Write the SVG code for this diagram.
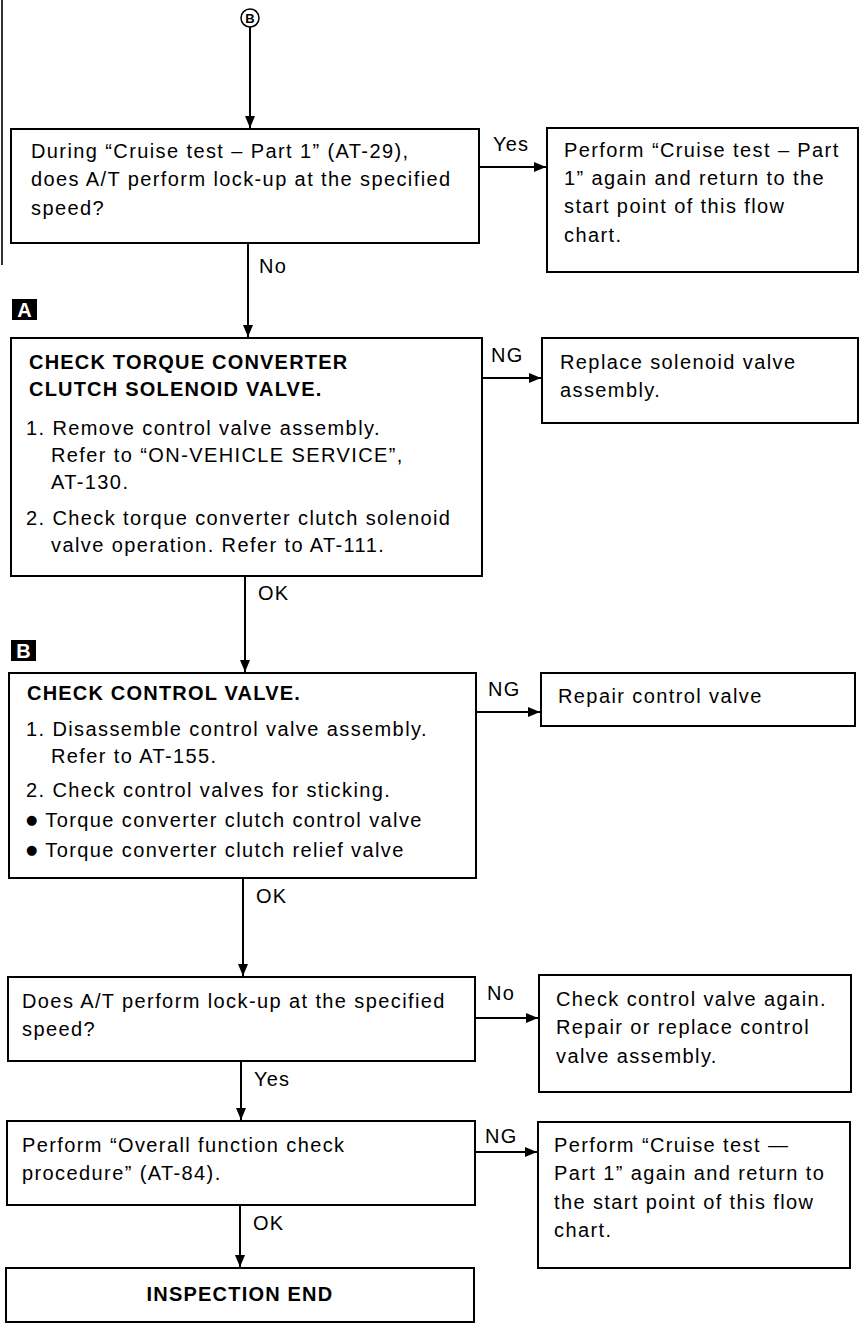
<svg xmlns="http://www.w3.org/2000/svg" width="866" height="1332" viewBox="0 0 866 1332">
<style>
.box{fill:#fff;stroke:#000;stroke-width:2}
.t{font-family:"Liberation Sans",Arial,sans-serif;font-size:20px;letter-spacing:1.4px;fill:#000}
.b{font-weight:bold;letter-spacing:1.2px}
.lbl{font-family:"Liberation Sans",Arial,sans-serif;font-size:20px;letter-spacing:1.2px;fill:#000}
.c{stroke:#000;stroke-width:2;fill:none}
.mk{fill:#000}
.mkt{font-family:"Liberation Sans",Arial,sans-serif;font-size:20px;font-weight:bold;fill:#fff}
.bul{font-family:"DejaVu Sans",sans-serif;font-size:13px}
</style>
<defs>
<marker id="ah" markerWidth="12" markerHeight="10" refX="12" refY="5" orient="auto" markerUnits="userSpaceOnUse">
<path d="M0,0 L12,5 L0,10 Z" fill="#000"/>
</marker>
</defs>
<rect width="866" height="1332" fill="#fff"/>
<line x1="2" y1="0" x2="2" y2="265" stroke="#333" stroke-width="2"/>

<g id="startB">
<circle cx="250" cy="18" r="9" fill="#fff" stroke="#000" stroke-width="1.5"/>
<text x="250" y="23" text-anchor="middle" font-family="Liberation Sans, Arial, sans-serif" font-size="13" font-weight="bold">B</text>
</g>

<g id="markA">
<rect class="mk" x="12" y="299" width="25" height="21"/>
<text class="mkt" x="24.5" y="317" text-anchor="middle">A</text>
</g>
<g id="markB">
<rect class="mk" x="11" y="640" width="25" height="21"/>
<text class="mkt" x="23.5" y="658" text-anchor="middle">B</text>
</g>

<g id="q1">
<rect class="box" x="11" y="129" width="468" height="114"/>
<text class="t" x="31" y="158">During “Cruise test – Part 1” (AT-29),</text>
<text class="t" x="31" y="186">does A/T perform lock-up at the specified</text>
<text class="t" x="31" y="215">speed?</text>
</g>
<g id="r1">
<rect class="box" x="547" y="128" width="311" height="144"/>
<text class="t" x="564" y="157">Perform “Cruise test – Part</text>
<text class="t" x="564" y="185">1” again and return to the</text>
<text class="t" x="564" y="213">start point of this flow</text>
<text class="t" x="564" y="242">chart.</text>
</g>

<g id="s1">
<rect class="box" x="11" y="338" width="471" height="238"/>
<text class="t b" x="29" y="369">CHECK TORQUE CONVERTER</text>
<text class="t b" x="29" y="396">CLUTCH SOLENOID VALVE.</text>
<text class="t" x="26" y="435">1. Remove control valve assembly.</text>
<text class="t" x="51" y="462">Refer to “ON-VEHICLE SERVICE”,</text>
<text class="t" x="51" y="489">AT-130.</text>
<text class="t" x="26" y="525">2. Check torque converter clutch solenoid</text>
<text class="t" x="51" y="552">valve operation. Refer to AT-111.</text>
</g>
<g id="r2">
<rect class="box" x="542" y="338" width="316" height="85"/>
<text class="t" x="560" y="369">Replace solenoid valve</text>
<text class="t" x="560" y="397">assembly.</text>
</g>

<g id="s2">
<rect class="box" x="9" y="673" width="467" height="205"/>
<text class="t b" x="27" y="700">CHECK CONTROL VALVE.</text>
<text class="t" x="26" y="736">1. Disassemble control valve assembly.</text>
<text class="t" x="51" y="763">Refer to AT-155.</text>
<text class="t" x="26" y="797">2. Check control valves for sticking.</text>
<text class="t" x="26" y="827"><tspan class="bul" dy="-3">●</tspan><tspan dy="3"> Torque converter clutch control valve</tspan></text>
<text class="t" x="26" y="857"><tspan class="bul" dy="-3">●</tspan><tspan dy="3"> Torque converter clutch relief valve</tspan></text>
</g>
<g id="r3">
<rect class="box" x="541" y="673" width="314" height="53"/>
<text class="t" x="558" y="703">Repair control valve</text>
</g>

<g id="q2">
<rect class="box" x="8" y="977" width="467" height="84"/>
<text class="t" x="22" y="1008">Does A/T perform lock-up at the specified</text>
<text class="t" x="22" y="1036">speed?</text>
</g>
<g id="r4">
<rect class="box" x="539" y="975" width="312" height="117"/>
<text class="t" x="556" y="1006">Check control valve again.</text>
<text class="t" x="556" y="1034">Repair or replace control</text>
<text class="t" x="556" y="1063">valve assembly.</text>
</g>

<g id="s3">
<rect class="box" x="7" y="1121" width="468" height="84"/>
<text class="t" x="22" y="1152">Perform “Overall function check</text>
<text class="t" x="22" y="1180">procedure” (AT-84).</text>
</g>
<g id="r5">
<rect class="box" x="538" y="1122" width="312" height="146"/>
<text class="t" x="554" y="1152">Perform “Cruise test —</text>
<text class="t" x="554" y="1180">Part 1” again and return to</text>
<text class="t" x="554" y="1209">the start point of this flow</text>
<text class="t" x="554" y="1237">chart.</text>
</g>

<g id="end">
<rect class="box" x="6" y="1268" width="468" height="54"/>
<text class="t b" x="240" y="1301" text-anchor="middle">INSPECTION END</text>
</g>

<g id="connectors">
<line class="c" x1="250" y1="27" x2="250" y2="128" marker-end="url(#ah)"/>
<line class="c" x1="479" y1="167" x2="546" y2="167" marker-end="url(#ah)"/>
<text class="lbl" x="493" y="151">Yes</text>
<line class="c" x1="248" y1="243" x2="248" y2="337" marker-end="url(#ah)"/>
<text class="lbl" x="259" y="273">No</text>
<line class="c" x1="482" y1="378" x2="541" y2="378" marker-end="url(#ah)"/>
<text class="lbl" x="491" y="362">NG</text>
<line class="c" x1="245" y1="576" x2="245" y2="672" marker-end="url(#ah)"/>
<text class="lbl" x="258" y="600">OK</text>
<line class="c" x1="476" y1="712" x2="540" y2="712" marker-end="url(#ah)"/>
<text class="lbl" x="488" y="696">NG</text>
<line class="c" x1="243" y1="878" x2="243" y2="976" marker-end="url(#ah)"/>
<text class="lbl" x="256" y="903">OK</text>
<line class="c" x1="475" y1="1018" x2="538" y2="1018" marker-end="url(#ah)"/>
<text class="lbl" x="487" y="1000">No</text>
<line class="c" x1="241" y1="1061" x2="241" y2="1120" marker-end="url(#ah)"/>
<text class="lbl" x="254" y="1086">Yes</text>
<line class="c" x1="475" y1="1152" x2="537" y2="1152" marker-end="url(#ah)"/>
<text class="lbl" x="485" y="1143">NG</text>
<line class="c" x1="240" y1="1205" x2="240" y2="1267" marker-end="url(#ah)"/>
<text class="lbl" x="253" y="1230">OK</text>
</g>
</svg>
